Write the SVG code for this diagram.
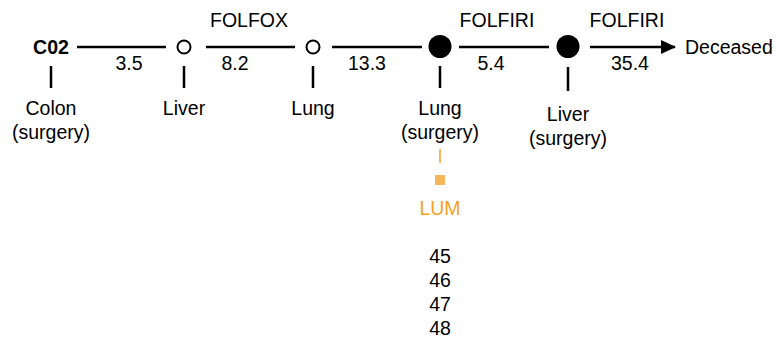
<svg xmlns="http://www.w3.org/2000/svg" width="778" height="343" viewBox="0 0 778 343">
<defs>
<style>
text{font-family:"Liberation Sans",Arial,sans-serif;font-size:19.5px;fill:#000;text-anchor:middle}
.b{font-weight:bold}
.s{text-anchor:start}
.ln{stroke:#000;stroke-width:2.5;fill:none}
.tk{stroke:#000;stroke-width:2.5}
.ho{fill:#fff;stroke:#000;stroke-width:2}
.fi{fill:#000}
.or{fill:#F5A21F}
</style>
<marker id="ah" markerUnits="userSpaceOnUse" markerWidth="16" markerHeight="14" refX="14" refY="7" orient="auto">
<path d="M0,0 L15,7 L0,14 Z" fill="#000"/>
</marker>
</defs>
<g id="connectors">
<line class="ln" x1="77" y1="47" x2="166" y2="47"/>
<line class="ln" x1="206" y1="47" x2="295" y2="47"/>
<line class="ln" x1="332" y1="47" x2="422" y2="47"/>
<line class="ln" x1="459" y1="47" x2="549" y2="47"/>
<line class="ln" x1="590" y1="47" x2="675" y2="47" marker-end="url(#ah)"/>
<text x="129" y="70">3.5</text>
<text x="235" y="70">8.2</text>
<text x="367" y="70">13.3</text>
<text x="491" y="70">5.4</text>
<text x="630" y="70">35.4</text>
<text x="249" y="27">FOLFOX</text>
<text x="497" y="27">FOLFIRI</text>
<text x="627" y="27">FOLFIRI</text>
</g>
<g id="n-c02">
<text class="b" x="51" y="54">C02</text>
<line class="tk" x1="51" y1="66" x2="51" y2="88"/>
<text x="51" y="115">Colon</text>
<text x="51" y="139">(surgery)</text>
</g>
<g id="n-liver1">
<circle class="ho" cx="184" cy="47" r="6.5"/>
<line class="tk" x1="184" y1="66" x2="184" y2="88"/>
<text x="184" y="115">Liver</text>
</g>
<g id="n-lung1">
<circle class="ho" cx="313" cy="47" r="6.5"/>
<line class="tk" x1="313" y1="66" x2="313" y2="88"/>
<text x="313" y="115">Lung</text>
</g>
<g id="n-lung2">
<circle class="fi" cx="440" cy="46.5" r="11.5"/>
<line class="tk" x1="440" y1="66" x2="440" y2="88"/>
<text x="440" y="115">Lung</text>
<text x="440" y="139">(surgery)</text>
<line x1="440" y1="149" x2="440" y2="163" stroke="#F6B65C" stroke-width="2"/>
<rect x="435" y="175" width="10" height="10" fill="#F6B65C"/>
<text class="or" x="440" y="215">LUM</text>
<text x="440" y="263">45</text>
<text x="440" y="287">46</text>
<text x="440" y="311">47</text>
<text x="440" y="335">48</text>
</g>
<g id="n-liver2">
<circle class="fi" cx="568" cy="46.5" r="11.5"/>
<line class="tk" x1="568" y1="67" x2="568" y2="91"/>
<text x="568" y="121">Liver</text>
<text x="568" y="145">(surgery)</text>
</g>
<g id="n-deceased">
<text class="s" x="685" y="54">Deceased</text>
</g>
</svg>
